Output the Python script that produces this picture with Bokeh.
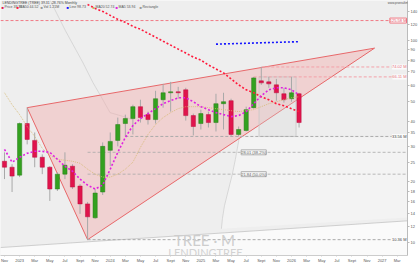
from bokeh.plotting import figure
from bokeh.models import Label, FixedTicker, Range1d, ColumnDataSource, PrintfTickFormatter
from bokeh.embed import file_html
from bokeh.resources import INLINE

# ---------------- data (monthly candles, Nov 2022 .. Feb 2026) ----------------
months = list(range(40))
opens = [25.30, 23.64, 21.60, 38.87, 32.08, 26.47, 23.64, 18.44, 21.84, 23.91,
         19.07, 15.57, 13.29, 17.82, 28.65, 32.08, 38.87, 41.13, 47.10, 43.03,
         40.67, 50.98, 55.18, 55.80, 57.08, 42.55, 38.87, 43.03, 39.31, 48.73,
         50.41, 34.33, 35.92, 46.57, 63.19, 62.48, 60.40, 54.56, 51.56, 54.56]
highs = [28.01, 24.46, 39.31, 46.57, 35.11, 27.38, 23.91, 22.34, 28.01, 24.46,
         19.51, 15.92, 18.44, 31.36, 35.11, 41.60, 43.03, 48.18, 50.98, 44.52,
         56.44, 61.08, 62.48, 59.05, 58.38, 43.52, 45.53, 44.52, 54.56, 55.18,
         51.56, 37.57, 47.10, 66.11, 74.02, 66.11, 64.63, 58.38, 66.11, 55.18]
lows = [20.65, 17.82, 21.12, 30.66, 23.64, 21.84, 16.10, 18.03, 20.65, 18.44,
        13.90, 10.36, 13.14, 17.23, 23.91, 29.98, 33.56, 34.33, 39.31, 38.43,
        38.87, 46.57, 44.52, 51.56, 40.21, 33.94, 36.32, 37.15, 35.51, 36.32,
        33.56, 33.56, 35.51, 46.05, 60.40, 58.38, 50.41, 49.28, 49.84, 37.15]
closes = [23.64, 21.36, 38.87, 32.44, 26.47, 23.64, 18.44, 21.84, 24.18, 18.86,
          15.57, 13.44, 17.62, 29.98, 31.72, 38.43, 41.13, 47.10, 41.60, 40.67,
          51.56, 55.18, 55.80, 55.18, 42.55, 37.57, 43.52, 39.31, 48.73, 49.84,
          34.33, 36.32, 45.53, 65.36, 61.78, 61.08, 55.18, 50.98, 55.18, 39.31]

ma_fast = [28.98, 25.02, 26.47, 27.69, 28.33, 28.33, 28.01, 25.88, 23.91, 22.60,
           20.65, 19.29, 18.44, 19.29, 23.12, 28.01, 33.18, 38.00, 41.13, 43.52,
           46.05, 48.73, 50.41, 52.14, 52.14, 49.84, 47.10, 45.53, 44.02, 43.03,
           42.07, 42.55, 44.52, 48.73, 53.34, 57.08, 58.38, 58.38, 57.08, 53.94]
ma_mid = [55.18, 48.18, 43.03, 37.57, 33.56, 29.31, 27.08, 25.88, 25.59, 25.30,
          24.73, 23.12, 21.84, 21.12, 21.12, 21.84, 23.12, 25.02, 29.64, 34.33,
          38.43, 41.60, 44.02, 46.05, 47.10, 47.10, 47.10, 46.57, 46.05, 45.53,
          45.02, 44.52, 45.02, 45.53, 47.10, 48.73, 49.84, 50.98, 52.14, 52.74]
ma_slow_months = list(range(11, 40))
ma_slow = [150.8, 144.2, 139.4, 133.2, 127.3, 123.1, 117.6, 113.7, 108.7, 103.9,
           99.29, 94.90, 90.71, 86.71, 82.87, 80.11, 75.71, 72.37, 69.17, 64.63,
           60.40, 57.08, 55.18, 52.74, 50.98, 48.73, 47.64, 46.05, 44.52]

blue_months = [28, 39]
blue_prices = [95.98, 98.73]

wedge_months = [3, 11, 49.0]
wedge_prices = [46.57, 10.36, 91.74]

level_prices = [125.58, 74.02, 66.11, 33.56, 10.36]
level_start = [None, 34, 33, 16, 11]
level_text = ["125.58 M", "74.02 M", "66.11 M", "33.56 M", "10.36 M"]
level_colors = ["#f07a86", "#f4a0a8", "#f4a0a8", "#aaaaaa", "#aaaaaa"]
level_text_colors = ["#e8506a", "#e87080", "#e87080", "#444444", "#444444"]

fib_prices = [28.01, 21.84]
fib_text = ["28.01 (38.2%)", "21.84 (50.0%)"]
fib_start = 11
fib_label_month = 33

zone_left, zone_right, zone_top, zone_bottom = 33.7, 38.6, 66.11, 33.56

band_upper_months = [6.06, 8.04, 10.41, 11.73, 12.65, 13.97, 16.21, 16.86]
band_upper_prices = [157.8, 112.4, 77.44, 61.78, 53.94, 44.02, 41.60, 40.67]
band_lower_months = [31.09, 30.57, 30.17, 29.51, 29.12, 28.85, 28.72]
band_lower_prices = [33.18, 25.88, 21.84, 17.42, 15.22, 13.14, 11.73]
support_prices = [9.47, 12.84]

price_ticks = [10, 12, 14, 16, 18, 20, 25, 30, 35, 40, 50, 60, 70, 80, 90, 100, 120, 140]
month_ticks = list(range(0, 54, 2))
month_tick_text = ["Nov", "2023", "Mar", "May", "Jul", "Sept", "Nov", "2024", "Mar",
                   "May", "Jul", "Sept", "Nov", "2025", "Mar", "May", "Jul", "Sept",
                   "Nov", "2026", "Mar", "May", "Jul", "Sept", "Nov", "2027", "Mar"]

axis_boxes = [(147.50, "#333333", "white"), (98.73, "#3030f0", "white"),
              (53.94, "#d040d0", "white"), (52.74, "#c8b860", "white"),
              (44.52, "#f6b0b8", "#d01030"), (39.31, "#f0e030", "#333333")]
axis_box_text = ["147.50", "98.73", "53.94", "52.74", "44.52", "39.31"]

legend_items = [("#e0144c", "Price 39.31"), ("#ff1a3c", "MA50 44.52"),
                ("#999999", "Vol 1.21M"), ("#1515ff", "Line 98.73"),
                ("#c8b060", "MA20 52.74"), ("#e020e0", "MA5 53.94"),
                ("#999999", "Rectangle")]
legend_offsets = [1, 16, 40, 66, 92, 115, 139]

# ---------------- figure ----------------
x_start, x_end = -0.53, 53.36
y_start, y_end = 8.65, 157.8

p = figure(width=420, height=265, y_axis_type="log", y_axis_location="right",
           x_range=Range1d(x_start, x_end), y_range=Range1d(y_start, y_end),
           output_backend="svg", toolbar_location=None,
           min_border_left=0, min_border_top=0, min_border_right=11, min_border_bottom=8)
p.background_fill_color = "#eeeeee"
p.border_fill_color = "white"
p.outline_line_color = None
p.grid.visible = False

# white region below long-term support line
p.patch([x_start, x_end, x_end, x_start], [support_prices[0], support_prices[1], y_start, y_start],
        fill_color="#fafafa", line_color=None)
p.line([x_start, x_end], support_prices, line_color="#c4c4c4", line_width=0.8)

# lighter region lower right
p.patch(band_lower_months + [x_end, x_end],
        band_lower_prices + [support_prices[1] + 0.5, band_lower_prices[0]],
        fill_color="#f3f3f3", line_color=None)
p.line(band_lower_months, band_lower_prices, line_color="#d0d0d0", line_width=0.8)
p.line(band_upper_months, band_upper_prices, line_color="#d0d0d0", line_width=0.8)

# wedge
p.patch(wedge_months, wedge_prices, fill_color="#f2a9a9", fill_alpha=0.42,
        line_color="#e8686a", line_width=1)

# rectangle zone
p.quad(left=[zone_left], right=[zone_right], top=[zone_top], bottom=[zone_bottom],
       fill_color="#d8d8d8", fill_alpha=0.3, line_color="#c8c8c8", line_width=0.8)

# horizontal levels
level_end = x_end - 2.1
for lp, ls, lc, lt, tc in zip(level_prices, level_start, level_colors, level_text, level_text_colors):
    s = x_start if ls is None else ls
    p.line([s, level_end], [lp, lp], line_color=lc, line_dash="3 2", line_width=1)
    p.add_layout(Label(x=x_end, y=lp, text=lt, text_align="right", text_baseline="middle",
                       x_offset=-1, text_font_size="4px", text_color=tc,
                       background_fill_color="#fbfbfb",
                       border_line_color=lc if lt == level_text[0] else None))

for fp, ft in zip(fib_prices, fib_text):
    p.line([fib_start, x_end], [fp, fp], line_color="#a8a8a8", line_dash="3 2", line_width=0.8)
    p.add_layout(Label(x=fib_label_month, y=fp, text=ft, text_align="center", text_baseline="middle",
                       text_font_size="4px", text_color="#666666",
                       background_fill_color="#f6f6f6", border_line_color="#b0b0b0"))

# candles
up = [c >= o for o, c in zip(opens, closes)]
src = ColumnDataSource(dict(
    x=months, high=highs, low=lows,
    top=[max(o, c) for o, c in zip(opens, closes)],
    bottom=[min(o, c) for o, c in zip(opens, closes)],
    fill=["#33a11f" if u else "#e0144c" for u in up],
    edge=["#2a7d1a" if u else "#b80f3c" for u in up],
))
p.segment(x0="x", y0="low", x1="x", y1="high", source=src, line_color="#a8a8a8", line_width=1)
p.vbar(x="x", top="top", bottom="bottom", width=0.56, source=src,
       fill_color="fill", line_color="edge", line_width=0.5)

# moving averages
p.line(months, ma_mid, line_color="#d4b870", line_width=0.8, line_dash="1 1")
p.line(ma_slow_months, ma_slow, line_color="#ff1a3c", line_width=1.6, line_dash="2 2")
p.line(months, ma_fast, line_color="#e020e0", line_width=1.6, line_dash="2 2")
p.line(blue_months, blue_prices, line_color="#1515ff", line_width=1.6, line_dash="2 2")

# axes
p.yaxis.ticker = FixedTicker(ticks=price_ticks)
p.yaxis.formatter = PrintfTickFormatter(format="%.0f")
p.yaxis.major_label_text_font_size = "4px"
p.yaxis.major_label_text_color = "#555555"
p.yaxis.major_tick_out = 2
p.yaxis.major_tick_in = 0
p.yaxis.minor_tick_line_color = None
p.yaxis.major_label_standoff = 1
p.yaxis.axis_line_color = "#bbbbbb"
p.yaxis.major_tick_line_color = "#bbbbbb"

p.xaxis.ticker = FixedTicker(ticks=month_ticks)
p.xaxis.major_label_overrides = {t: s for t, s in zip(month_ticks, month_tick_text)}
p.xaxis.major_label_text_font_size = "4px"
p.xaxis.major_label_text_color = "#555555"
p.xaxis.major_tick_out = 1
p.xaxis.major_tick_in = 0
p.xaxis.minor_tick_line_color = None
p.xaxis.major_label_standoff = 1
p.xaxis.axis_line_color = "#cccccc"
p.xaxis.major_tick_line_color = "#cccccc"

# value boxes on the price axis
for (val, bg, fg), txt in zip(axis_boxes, axis_box_text):
    p.add_layout(Label(x=x_end, y=val, text=txt, text_align="left", text_baseline="middle",
                       x_offset=1, text_font_size="3.6px", text_color=fg,
                       background_fill_color=bg))

# watermark
p.add_layout(Label(x=x_start, y=y_start, x_offset=204, y_offset=16, text="TREE · M",
                   text_align="center", text_baseline="middle", text_font_size="15px",
                   text_font="Lato", text_color="#cdcdcd"))
p.add_layout(Label(x=x_start, y=y_start, x_offset=205, y_offset=3, text="LENDINGTREE",
                   text_align="center", text_baseline="middle", text_font_size="11px",
                   text_font="Lato", text_color="#d2d2d2"))

# header texts
p.add_layout(Label(x=x_start, y=y_end, x_offset=2, y_offset=-2.5,
                   text="LENDINGTREE (TREE) 39.31 -28.76% Monthly", text_baseline="middle",
                   text_font_size="3.5px", text_color="#444444"))
for (col, txt), off in zip(legend_items, legend_offsets):
    p.add_layout(Label(x=x_start, y=y_end, x_offset=off, y_offset=-6.5, text="■",
                       text_baseline="middle", text_font_size="4px", text_color=col))
    p.add_layout(Label(x=x_start, y=y_end, x_offset=off + 3, y_offset=-6.5, text=txt,
                       text_baseline="middle", text_font_size="3.5px", text_color="#555555"))
p.add_layout(Label(x=x_end, y=y_end, x_offset=9, y_offset=-2.5, text="www.prorealtime.com",
                   text_align="right", text_baseline="middle", text_font_size="3px",
                   text_color="#555555"))
p.add_layout(Label(x=x_start, y=y_start, x_offset=2, y_offset=-2,
                   text="ProRealTime - Historical data adjusted for dividends",
                   text_baseline="middle", text_font_size="3.2px", text_color="#666666"))

open("out.html", "w").write(file_html(p, INLINE))
